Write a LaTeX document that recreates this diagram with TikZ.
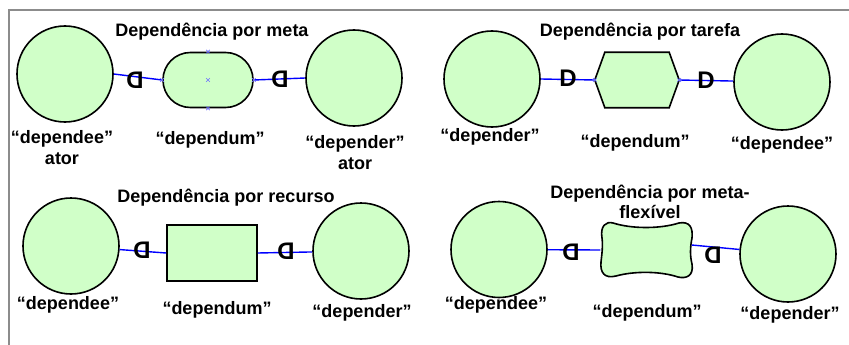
\documentclass[tikz,border=0pt]{standalone}
\usepackage{fontspec}
\setmainfont{Liberation Sans}
\definecolor{lgreen}{RGB}{208,255,200}
\definecolor{frame}{RGB}{140,140,140}
\definecolor{mark}{RGB}{110,110,255}
\begin{document}
\begin{tikzpicture}[x=1pt,y=-1pt,
  actor/.style={circle,draw,line width=1.6pt,fill=lgreen,minimum size=96pt,inner sep=0pt},
  shapebox/.style={draw,line width=1.6pt,fill=lgreen,inner sep=0pt},
  ghost/.style={inner sep=0pt},
  lbl/.style={font=\fontsize{18}{21}\selectfont\bfseries,align=center,inner sep=0pt},
  ttl/.style={font=\fontsize{18}{19.5}\selectfont\bfseries,align=center,inner sep=0pt},
  dglyph/.style={font=\fontsize{24}{24}\selectfont\bfseries,inner sep=0pt},
  link/.style={draw=blue,line width=1.4pt},
  selmark/.style={draw=mark,line width=0.7pt}]
\useasboundingbox (0,0) rectangle (849,345);
\draw[frame,line width=2pt] (9,345) -- (9,10) -- (849,10);

% ---------- Panel 1: meta ----------
\node[ttl] (t1) at (212,32) {Dependência por meta};
\node[actor] (a1) at (65,74) {};
\node[shapebox,rounded corners=27.4pt,minimum width=90pt,minimum height=55pt] (g1) at (208,80) {};
\node[actor] (a2) at (354,78) {};
\draw[link] (a1.east) -- (g1.west);
\draw[link] (g1.east) -- (a2.west);
\node[dglyph] (d11) at (135,80) {\reflectbox{D}};
\node[dglyph] (d12) at (280,79) {\reflectbox{D}};
\foreach \p in {g1.north,g1.center,g1.south,g1.west,g1.east}
  \draw[selmark] ([shift={(-1.8,-1.8)}]\p) -- ([shift={(1.8,1.8)}]\p)
                 ([shift={(-1.8,1.8)}]\p) -- ([shift={(1.8,-1.8)}]\p);
\node[lbl] (l11) at (62,148) {“dependee”\\ator};
\node[lbl] (l12) at (210,140) {“dependum”};
\node[lbl] (l13) at (355,153) {“depender”\\ator};

% ---------- Panel 2: tarefa ----------
\node[ttl] (t2) at (640,32) {Dependência por tarefa};
\node[actor] (a3) at (492,79) {};
\node[ghost,minimum width=84pt,minimum height=55pt] (h) at (637,80) {};
\draw[shapebox] (h.west) -- ([xshift=10pt]h.north west) -- ([xshift=-10pt]h.north east)
  -- (h.east) -- ([xshift=-10pt]h.south east) -- ([xshift=10pt]h.south west) -- cycle;
\node[actor] (a4) at (782,82) {};
\draw[link] (a3.east) -- (h.west);
\draw[link] (h.east) -- (a4);
\node[dglyph] (d21) at (568,78) {D};
\node[dglyph] (d22) at (706,80) {D};
\foreach \p in {h.west,h.east}
  \draw[selmark] ([shift={(-1.8,-1.8)}]\p) -- ([shift={(1.8,1.8)}]\p)
                 ([shift={(-1.8,1.8)}]\p) -- ([shift={(1.8,-1.8)}]\p);
\node[lbl] (l21) at (490,137) {“depender”};
\node[lbl] (l22) at (635,143) {“dependum”};
\node[lbl] (l23) at (782,145) {“dependee”};

% ---------- Panel 3: recurso ----------
\node[ttl] (t3) at (226,198) {Dependência por recurso};
\node[actor] (a5) at (71,246) {};
\node[shapebox,minimum width=90pt,minimum height=56pt] (r) at (212,253) {};
\node[actor] (a6) at (361,251) {};
\draw[link] (a5) -- (r.west);
\draw[link] (r.east) -- (a6);
\node[dglyph] (d31) at (142,250) {\reflectbox{D}};
\node[dglyph] (d32) at (286,251) {\reflectbox{D}};
\node[lbl] (l31) at (68,305) {“dependee”};
\node[lbl] (l32) at (217,310) {“dependum”};
\node[lbl] (l33) at (362,313) {“depender”};

% ---------- Panel 4: meta-flexivel ----------
\node[ttl] (t4) at (650,202) {Dependência por meta-\\flexível};
\node[actor] (a7) at (499,249.5) {};
\node[ghost,minimum width=91pt,minimum height=54pt] (b) at (646,250) {};
\begin{scope}[shift={(b.center)}]
\draw[shapebox] (-33,-27) .. controls (-14,-21) and (14,-21) .. (33,-27)
  .. controls (44,-29) and (47,-22) .. (46,-12)
  .. controls (44,-2) and (44,6) .. (46,14)
  .. controls (48,26) and (40,29) .. (32,27)
  .. controls (14,21) and (-12,21) .. (-30,26)
  .. controls (-42,29) and (-46,22) .. (-45,12)
  .. controls (-44,3) and (-43,-4) .. (-44,-12)
  .. controls (-46,-24) and (-40,-29) .. (-33,-27) -- cycle;
\end{scope}
\node[actor] (a8) at (788,254) {};
\draw[link] (a7) -- (b.west);
\draw[link] ([yshift=5pt]b.east) -- (a8);
\node[dglyph] (d41) at (571,252) {\reflectbox{D}};
\node[dglyph] (d42) at (713,255) {\reflectbox{D}};
\node[lbl] (l41) at (496,305) {“dependee”};
\node[lbl] (l42) at (647,313) {“dependum”};
\node[lbl] (l43) at (790,315) {“depender”};
\end{tikzpicture}
\end{document}
